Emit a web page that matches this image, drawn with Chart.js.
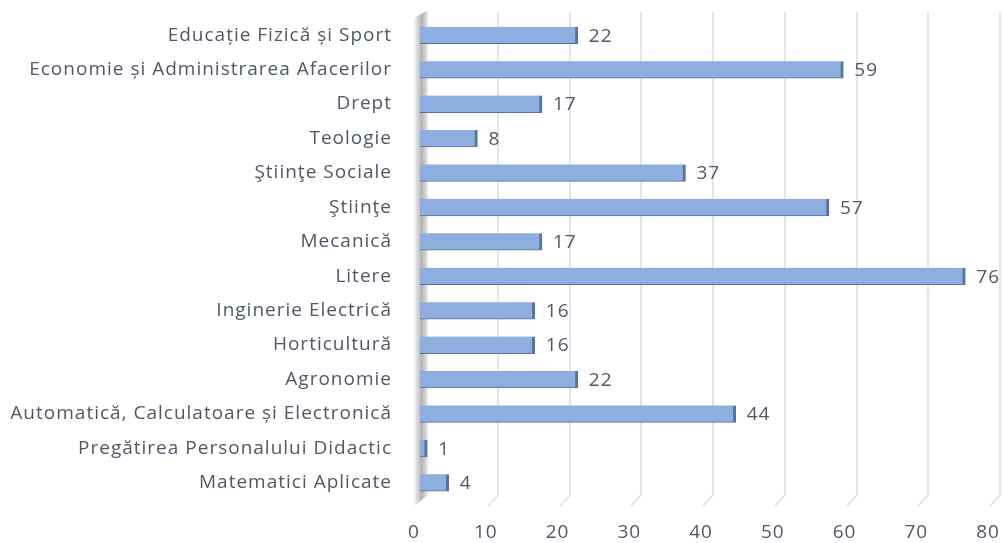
<!DOCTYPE html>
<html>
<head>
<meta charset="utf-8">
<script src="https://cdn.jsdelivr.net/npm/chart.js@4.4.0/dist/chart.umd.min.js"></script>
<style>
  html, body { margin: 0; padding: 0; background: #fff; }
  #wrap { width: 1003px; height: 543px; }
</style>
</head>
<body>
<div id="wrap"><canvas id="myChart" width="1003" height="543"></canvas></div>
<script>
// data, top to bottom as in the picture
const faculties = [
  'Educație Fizică și Sport',
  'Economie și Administrarea Afacerilor',
  'Drept',
  'Teologie',
  'Ştiinţe Sociale',
  'Ştiinţe',
  'Mecanică',
  'Litere',
  'Inginerie Electrică',
  'Horticultură',
  'Agronomie',
  'Automatică, Calculatoare și Electronică',
  'Pregătirea Personalului Didactic',
  'Matematici Aplicate'
];
const counts = [22, 59, 17, 8, 37, 57, 17, 76, 16, 16, 22, 44, 1, 4];
const xTicks = [0, 10, 20, 30, 40, 50, 60, 70, 80];

const fontName = '"Open Sans", "Noto Sans", sans-serif';
const textColor = '#4f5866';

// text in the picture is a bit stretched sideways
const spacingPlugin = {
  id: 'spacing',
  beforeInit(chart) { chart.ctx.letterSpacing = '1px'; },
  beforeDraw(chart) { chart.ctx.letterSpacing = '1px'; }
};

// 3D-ish back wall + gridlines
const wallPlugin = {
  id: 'wall',
  beforeDatasetsDraw(chart) {
    const ctx = chart.ctx;
    const a = chart.chartArea;
    const xs = chart.scales.x;
    ctx.save();
    // gridlines, pushed back a little with a slanted foot
    ctx.strokeStyle = '#d9dde6';
    ctx.lineWidth = 1.5;
    xTicks.forEach(function (v) {
      if (v === 0) return;
      const x = Math.round(xs.getPixelForValue(v)) + 6;
      ctx.beginPath();
      ctx.moveTo(x, a.top - 6);
      ctx.lineTo(x, a.bottom - 5);
      ctx.lineTo(x - 10, a.bottom + 6);
      ctx.stroke();
    });
    // left wall
    const g = ctx.createLinearGradient(a.left - 6, 0, a.left + 8, 0);
    g.addColorStop(0, '#f4f4f4');
    g.addColorStop(0.55, '#b4b4b4');
    g.addColorStop(0.8, '#d0d0d0');
    g.addColorStop(1, '#eeeeee');
    ctx.fillStyle = g;
    ctx.beginPath();
    ctx.moveTo(a.left - 6, a.top);
    ctx.lineTo(a.left + 8, a.top - 8);
    ctx.lineTo(a.left + 8, a.bottom - 5);
    ctx.lineTo(a.left - 6, a.bottom + 6);
    ctx.closePath();
    ctx.fill();
    ctx.restore();
  }
};

// value labels at bar ends
const valuePlugin = {
  id: 'values',
  afterDatasetsDraw(chart) {
    const ctx = chart.ctx;
    const meta = chart.getDatasetMeta(0);
    ctx.save();
    ctx.font = '19px ' + fontName;
    ctx.fillStyle = textColor;
    ctx.textBaseline = 'middle';
    ctx.textAlign = 'left';
    meta.data.forEach(function (bar, i) {
      ctx.fillText(String(counts[i]), bar.x + 11, bar.y + 1);
    });
    ctx.restore();
  }
};

const chartCtx = document.getElementById('myChart').getContext('2d');

const myChart = new Chart(chartCtx, {
  type: 'bar',
  data: {
    labels: faculties,
    datasets: [{
      data: counts,
      backgroundColor: function (c) {
        const bar = c.chart.getDatasetMeta(0).data[c.dataIndex];
        if (!bar || bar.y === undefined || isNaN(bar.y)) return '#8eaee0';
        const g = c.chart.ctx.createLinearGradient(0, bar.y - 9, 0, bar.y + 9);
        g.addColorStop(0, '#6d89b9');
        g.addColorStop(0.14, '#7e9ccc');
        g.addColorStop(0.2, '#a8c3ec');
        g.addColorStop(0.55, '#95b3e4');
        g.addColorStop(1, '#7193c9');
        return g;
      },
      borderColor: '#56729f',
      borderWidth: { top: 0, right: 3, bottom: 1, left: 0 },
      borderSkipped: 'left',
      barThickness: 17
    }]
  },
  options: {
    indexAxis: 'y',
    responsive: false,
    animation: false,
    layout: { padding: { top: 18, right: 9, left: 0, bottom: 0 } },
    plugins: {
      legend: { display: false },
      tooltip: { enabled: false }
    },
    scales: {
      x: {
        min: 0,
        max: 80,
        afterBuildTicks: function (s) { s.ticks = xTicks.map(function (v) { return { value: v }; }); },
        afterFit: function (s) {
          s.height = 43;
          s.paddingLeft = 0; s.paddingRight = 0;
        },
        grid: { display: false, drawTicks: false },
        border: { display: false },
        ticks: {
          padding: 21,
          labelOffset: -6,
          color: textColor,
          font: { family: fontName, size: 19 }
        }
      },
      y: {
        afterFit: function (s) {
          s.width = 420;
          s.paddingTop = 0; s.paddingBottom = 0;
        },
        grid: { display: false, drawTicks: false },
        border: { display: false },
        ticks: {
          padding: 28,
          autoSkip: false,
          color: textColor,
          font: { family: fontName, size: 19 }
        }
      }
    }
  },
  plugins: [spacingPlugin, wallPlugin, valuePlugin]
});
</script>
</body>
</html>
